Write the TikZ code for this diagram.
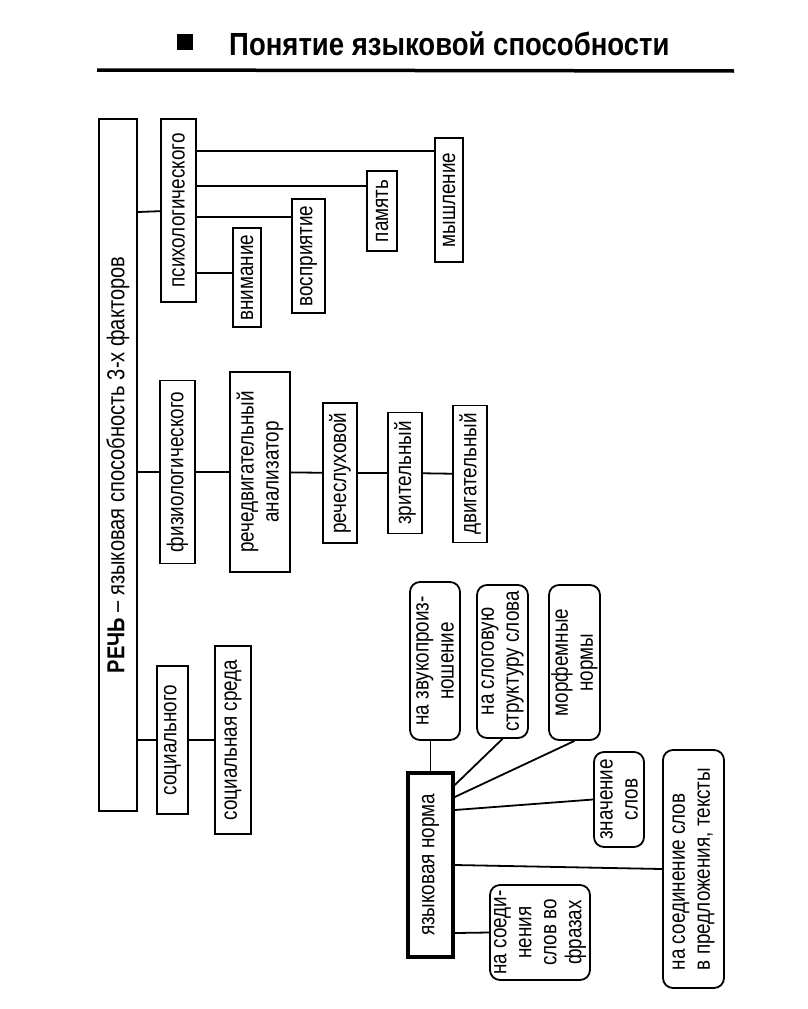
\documentclass[tikz,border=0pt]{standalone}
\usepackage{fontspec}
\setmainfont{Liberation Sans}
\newfontfamily\uzkij[FakeStretch=0.82]{Liberation Sans}
\newfontfamily\zagl[FakeStretch=0.86]{Liberation Sans}
\tikzset{>=stealth}
\tikzstyle{every node}=[align=center]
\tikzstyle{blok}=[draw, rotate=90, inner sep=0pt, line width=1.8pt, font=\uzkij\fontsize{23}{25}\selectfont]
\tikzstyle{okrug}=[blok, rounded corners=10pt]

\begin{document}
\begin{tikzpicture}[x=1pt, y=-1pt, line width=1.8pt]
\useasboundingbox (0,0) rectangle (808,1009);

% title
\node[fill, minimum size=16pt, inner sep=0pt] (marker) at (185,42) {};
\node[font=\zagl\bfseries\fontsize{32}{34}\selectfont, anchor=base west] (title) at (225,55) {Понятие языковой способности};
\draw[line width=3.5pt] (97,70) -- (734,71);

\node[blok, minimum width=692pt, minimum height=38pt, font=\uzkij\fontsize{24.5}{25}\selectfont] (rech) at (118,465) {\textbf{РЕЧЬ} – языковая способность 3-х факторов};

\node[blok, minimum width=183pt, minimum height=35pt] (psych) at (178.5,210.5) {психологического};
\node[blok, minimum width=99pt, minimum height=28pt] (vnim) at (247,277.5) {внимание};
\node[blok, minimum width=114pt, minimum height=33pt] (vospr) at (308.5,256) {восприятие};
\node[blok, minimum width=80pt, minimum height=30pt] (pamyat) at (382,211) {память};
\node[blok, minimum width=124pt, minimum height=28pt] (myshl) at (449,200) {мышление};

\node[blok, minimum width=183pt, minimum height=35pt] (fiz) at (177.5,472) {физиологического};
\node[blok, minimum width=200pt, minimum height=60pt] (analiz) at (260,472) {речедвигательный\\анализатор};
\node[blok, minimum width=140pt, minimum height=34pt] (rechsl) at (340,473) {речеслуховой};
\node[blok, minimum width=121pt, minimum height=34pt] (zrit) at (405,473) {зрительный};
\node[blok, minimum width=137pt, minimum height=34pt] (dvig) at (470,474) {двигательный};

\node[blok, minimum width=148pt, minimum height=31pt] (soc) at (172.5,740) {социального};
\node[blok, minimum width=188pt, minimum height=36pt] (socsr) at (233,740) {социальная среда};

\node[blok, line width=3.5pt, minimum width=184pt, minimum height=45pt] (norma) at (430.5,865) {языковая норма};
\node[okrug, minimum width=158pt, minimum height=50pt] (zvuk) at (435,661) {на звукопроиз-\\ношение};
\node[okrug, minimum width=153pt, minimum height=51pt] (slog) at (502.5,661.5) {на слоговую\\структуру слова};
\node[okrug, minimum width=155pt, minimum height=51pt] (morf) at (574.5,662.5) {морфемные\\нормы};
\node[okrug, minimum width=95pt, minimum height=50pt] (znach) at (619,799.5) {значение\\слов};
\node[okrug, align=left, minimum width=238pt, minimum height=61pt] (soed) at (693.5,869) {на соединение слов\\в предложения, тексты};
\node[okrug, minimum width=95pt, minimum height=100pt] (fraz) at (540,932.5) {на соеди-\\нения\\слов во\\фразах};

\draw (rech.south |- 0,212) -- (psych);
\draw (psych.south |- 0,151) -- (myshl.north |- 0,151);
\draw (psych.south |- 0,186) -- (pamyat.north |- 0,186);
\draw (psych.south |- 0,217) -- (vospr.north |- 0,217);
\draw (psych.south |- 0,273) -- (vnim.north |- 0,273);

\draw (rech.south |- fiz) -- (fiz);
\draw (fiz) -- (analiz);
\draw (analiz) -- (rechsl);
\draw (rechsl) -- (zrit);
\draw (zrit) -- (dvig);

\draw (rech.south |- soc) -- (soc);
\draw (soc) -- (socsr);

\draw (norma.east) -- (zvuk.west -| norma.east);
\draw (norma.south east |- 0,785) -- (slog.west);
\draw (norma.south east |- 0,797) -- (morf.west);
\draw (norma.south east |- 0,810) -- (znach.north);
\draw (norma.south) -- (soed.north);
\draw (norma.south east |- 0,933) -- (fraz.north);
\end{tikzpicture}
\end{document}
